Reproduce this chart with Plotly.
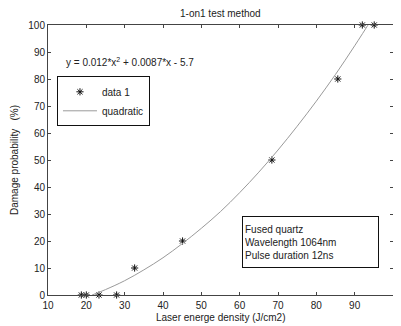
import plotly.graph_objects as go

# data points
data_x = [18.7, 20.0, 23.3, 27.9, 32.6, 45.1, 68.4, 85.6, 92.0, 95.1]
data_y = [0, 0, 0, 0, 10, 20, 50, 80, 100, 100]

# quadratic fit curve (matches y = 0.012*x^2 + 0.0087*x - 5.7)
fit_x = [21.5, 25, 30, 35, 40, 45, 50, 55, 60, 65, 70, 75, 80, 85, 90, 95]
fit_y = [0.0, 2.0, 5.3, 9.3, 13.8, 19.0, 24.7, 30.9, 37.9, 45.5, 53.7, 62.5, 71.8, 81.7, 92.3, 103.4]

x_ticks = [10, 20, 30, 40, 50, 60, 70, 80, 90, 100]
y_ticks = [0, 10, 20, 30, 40, 50, 60, 70, 80, 90, 100]

FONT = "Liberation Sans, Arial, Helvetica, sans-serif"
TXT = "#222"

fig = go.Figure()
fig.add_trace(go.Scatter(
    x=data_x, y=data_y, mode="markers", name="data 1",
    marker=dict(symbol="asterisk-open", size=6, color="#111",
                line=dict(color="#111", width=1)),
    cliponaxis=False,
))
fig.add_trace(go.Scatter(
    x=fit_x, y=fit_y, mode="lines", name="quadratic", line_shape="spline",
    line=dict(color="#9a9a9a", width=1),
))

axis_common = dict(
    showgrid=False, zeroline=False, showline=True, linecolor="#444", linewidth=1,
    mirror="ticks", ticks="inside", ticklen=3, tickcolor="#444", automargin=False,
    tickfont=dict(family=FONT, size=10, color=TXT),
)

# the page body has an 8px default margin, so the figure is drawn 8px smaller
fig.update_layout(
    width=393, height=318,
    margin=dict(l=40, r=8, t=17, b=31, autoexpand=False),
    paper_bgcolor="white", plot_bgcolor="white",
    font=dict(family=FONT, size=10, color=TXT),
    xaxis=dict(range=[10, 100], tickvals=x_ticks, ticklabelstandoff=1, **axis_common),
    yaxis=dict(range=[0, 100], tickvals=y_ticks, **axis_common),
    legend=dict(x=0.026, y=0.81, xanchor="left", yanchor="top",
                bordercolor="#111", borderwidth=1, bgcolor="white",
                font=dict(family=FONT, size=10, color=TXT),
                itemwidth=34, tracegroupgap=0),
    showlegend=True,
    annotations=[
        # title
        dict(x=0.5, y=1, xref="paper", yref="paper", yanchor="middle", xanchor="center",
             yshift=12, text="1-on1 test method", showarrow=False,
             font=dict(family=FONT, size=10, color=TXT)),
        # x axis title
        dict(x=0.5, y=0, xref="paper", yref="paper", yanchor="middle", xanchor="center",
             yshift=-22, text="Laser energe density (J/cm2)", showarrow=False,
             font=dict(family=FONT, size=10, color=TXT)),
        # y axis title
        dict(x=0, y=0.5, xref="paper", yref="paper", xanchor="center", yanchor="middle",
             xshift=-34, textangle=-90, text="Damage probability   (%)", showarrow=False,
             font=dict(family=FONT, size=10, color=TXT)),
        # equation
        dict(x=14.3, y=86.3, xref="x", yref="y", xanchor="left", yanchor="middle",
             text="y = 0.012*x<sup>2</sup> + 0.0087*x - 5.7", showarrow=False,
             font=dict(family=FONT, size=10, color=TXT)),
        # info box
        dict(x=60.6, y=29.3, xref="x", yref="y", xanchor="left", yanchor="top",
             text="Fused quartz<br>Wavelength 1064nm<br>Pulse duration 12ns",
             showarrow=False, align="left", valign="middle",
             width=131, height=46, borderpad=2,
             bordercolor="#111", borderwidth=1, bgcolor="white",
             font=dict(family=FONT, size=10, color=TXT)),
    ],
)

fig.write_html("out.html")
